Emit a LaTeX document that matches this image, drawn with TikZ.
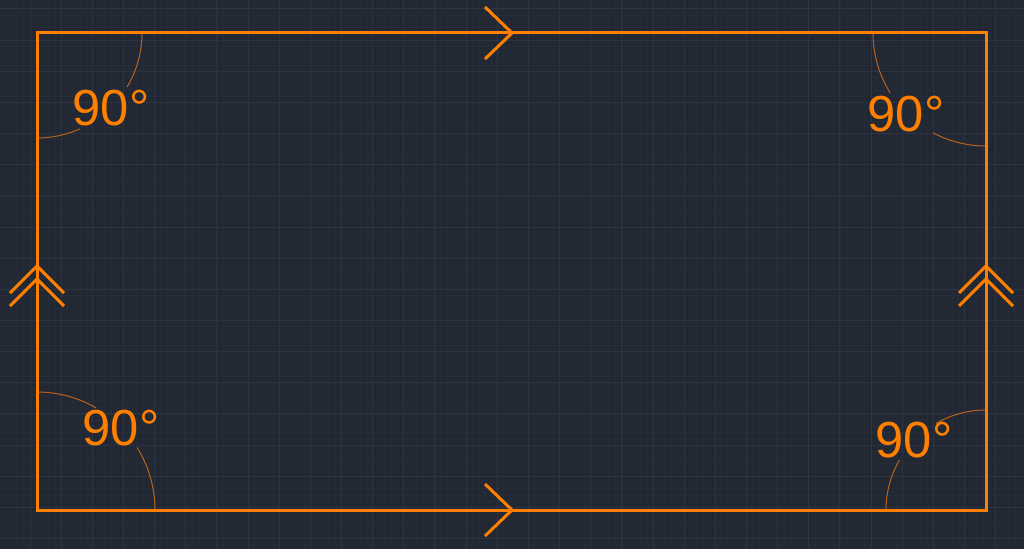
\documentclass[tikz,border=0pt]{standalone}
\usepackage{fontspec}
\setmainfont{Liberation Sans}
\definecolor{cadbg}{RGB}{33,40,51}
\definecolor{cadminor}{RGB}{37,44,56}
\definecolor{cadmajor}{RGB}{44,52,65}
\definecolor{cadorange}{RGB}{255,128,0}
\definecolor{cadarc}{RGB}{185,98,30}
\tikzset{every picture/.style={line width=0.75pt}}
\tikzset{
  edgeline/.style={draw=cadorange, line width=2.25pt},
  chevron/.style={draw=cadorange, line width=2.25pt},
  anglearc/.style={draw=cadarc, line width=0.75pt},
  anglelabel/.style={text=cadorange, inner sep=0pt, font=\fontsize{38}{40}\selectfont}
}

\begin{document}
\begin{tikzpicture}[x=0.75pt,y=0.75pt,yscale=-1,xscale=1]
\useasboundingbox (0,0) rectangle (1024,549);
%Background and grid
\begin{scope}
\clip (0,0) rectangle (1024,549);
\fill [cadbg] (0,0) rectangle (1024,549);
\foreach \k in {-4,...,160} {\draw [cadminor, line width=0.5pt] ({30+6.23*\k},0) -- ({30+6.23*\k},549);}
\foreach \k in {-1,...,88} {\draw [cadminor, line width=0.5pt] (0,{9+6.23*\k}) -- (1024,{9+6.23*\k});}
\foreach \k in {0,...,32} {\draw [cadmajor, line width=0.75pt] ({30+31.15*\k},0) -- ({30+31.15*\k},549);}
\foreach \k in {0,...,17} {\draw [cadmajor, line width=0.75pt] (0,{9+31.15*\k}) -- (1024,{9+31.15*\k});}
\end{scope}

%Corners
\coordinate (tlc) at (37,33);
\coordinate (trc) at (986,33);
\coordinate (brc) at (986,510);
\coordinate (blc) at (37,510);
\coordinate (topmid) at (512,33);
\coordinate (botmid) at (512,510);
\coordinate (leftmid) at (37,266);
\coordinate (rightmid) at (986,266);

%Angle arcs
\draw [anglearc] (tlc) ++(0:105) arc[start angle=0, end angle=31, radius=105];
\draw [anglearc] (tlc) ++(66:105) arc[start angle=66, end angle=90, radius=105];
\draw [anglearc] (trc) ++(180:113) arc[start angle=180, end angle=148, radius=113];
\draw [anglearc] (trc) ++(118:113) arc[start angle=118, end angle=90, radius=113];
\draw [anglearc] (blc) ++(270:118) arc[start angle=270, end angle=300, radius=118];
\draw [anglearc] (blc) ++(328:118) arc[start angle=328, end angle=360, radius=118];
\draw [anglearc] (brc) ++(270:100) arc[start angle=270, end angle=240, radius=100];
\draw [anglearc] (brc) ++(210:100) arc[start angle=210, end angle=180, radius=100];

%Shape: Rectangle
\draw [edgeline] (tlc) -- (trc) -- (brc) -- (blc) -- cycle ;

%Direction marks
\draw [chevron] ([shift={(-27,-26)}]topmid) -- (topmid) -- ([shift={(-27,26)}]topmid) ;
\draw [chevron] ([shift={(-27,-26)}]botmid) -- (botmid) -- ([shift={(-27,26)}]botmid) ;
\draw [chevron] ([shift={(-27,27)}]leftmid) -- (leftmid) -- ([shift={(27,27)}]leftmid) ;
\draw [chevron] ([shift={(-27,40)}]leftmid) -- ([shift={(0,13)}]leftmid) -- ([shift={(27,40)}]leftmid) ;
\draw [chevron] ([shift={(-27,27)}]rightmid) -- (rightmid) -- ([shift={(27,27)}]rightmid) ;
\draw [chevron] ([shift={(-27,40)}]rightmid) -- ([shift={(0,13)}]rightmid) -- ([shift={(27,40)}]rightmid) ;

% Text Node
\node [anglelabel] (tlabel) at (111,108) {90°};
% Text Node
\node [anglelabel] (trlabel) at (906,114) {90°};
% Text Node
\node [anglelabel] (bllabel) at (121,428) {90°};
% Text Node
\node [anglelabel] (brlabel) at (914,440) {90°};

\end{tikzpicture}
\end{document}
